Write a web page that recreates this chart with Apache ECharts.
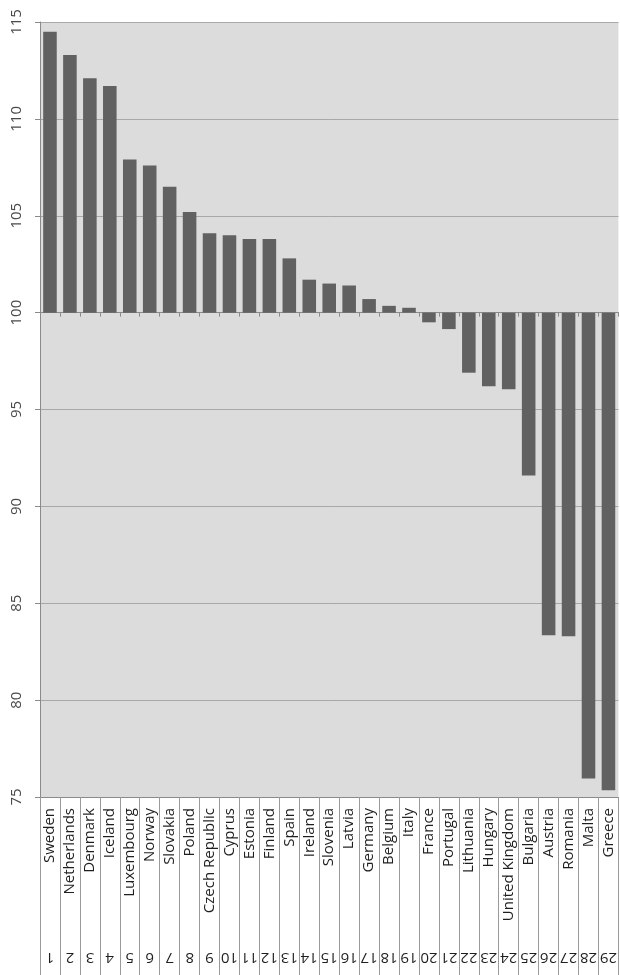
<!DOCTYPE html>
<html>
<head>
<meta charset="utf-8">
<script src="https://cdn.jsdelivr.net/npm/echarts@6/dist/echarts.min.js"></script>
<style>
html,body{margin:0;padding:0;background:#fff;}
#chart{width:620px;height:975px;}
</style>
</head>
<body>
<div id="chart"></div>
<script>
const countries = ["Sweden","Netherlands","Denmark","Iceland","Luxembourg","Norway","Slovakia","Poland","Czech Republic","Cyprus","Estonia","Finland","Spain","Ireland","Slovenia","Latvia","Germany","Belgium","Italy","France","Portugal","Lithuania","Hungary","United Kingdom","Bulgaria","Austria","Romania","Malta","Greece"];
const ranks = ["1","2","3","4","5","6","7","8","9","10","11","12","13","14","15","16","17","18","19","20","21","22","23","24","25","26","27","28","29"];
const values = [114.5,113.3,112.1,111.7,107.9,107.6,106.5,105.2,104.1,104.0,103.8,103.8,102.8,101.7,101.5,101.4,100.7,100.35,100.25,99.5,99.15,96.9,96.2,96.05,91.6,83.35,83.3,75.95,75.35];
const baseline = 100;
const yTicks = {min:75, max:115, step:5};

const chart = echarts.init(document.getElementById('chart'), null, {renderer:'canvas'});
const font = '"Open Sans", "DejaVu Sans", sans-serif';
chart.setOption({
  animation:false,
  backgroundColor:'#ffffff',
  grid:{left:40, right:0, top:22, bottom:178, show:true, backgroundColor:'#dcdcdc', borderWidth:0},
  xAxis:[
    {type:'category', data:countries, position:'bottom',
     axisLine:{onZero:true, lineStyle:{color:'#8a8a8a', width:1}},
     axisTick:{show:true, length:4, interval:0, lineStyle:{color:'#8a8a8a'}},
     axisLabel:{show:false}, splitLine:{show:false}},
    {type:'category', data:countries, position:'bottom',
     axisLine:{onZero:false, lineStyle:{color:'#8a8a8a', width:1}},
     axisTick:{show:true, length:180, interval:0, lineStyle:{color:'#9a9a9a'}},
     axisLabel:{rotate:90, margin:11, fontSize:15, fontFamily:font, color:'#1e1e1e', interval:0},
     splitLine:{show:false}},
    {type:'category', data:ranks, position:'bottom', offset:150,
     axisLine:{show:false, onZero:false}, axisTick:{show:false},
     axisLabel:{rotate:180, margin:3, fontSize:15, fontFamily:font, color:'#1e1e1e', interval:0},
     splitLine:{show:false}}
  ],
  yAxis:{type:'value', min:yTicks.min-baseline, max:yTicks.max-baseline, interval:yTicks.step,
    axisLine:{show:true, lineStyle:{color:'#8a8a8a'}},
    axisTick:{show:true, length:5, lineStyle:{color:'#8a8a8a'}},
    axisLabel:{rotate:90, margin:16, fontSize:15, fontFamily:font, color:'#4a4a4a',
      formatter:v => String(v+baseline)},
    splitLine:{show:true, lineStyle:{color:'#a8a8a8', width:1}}},
  series:[{type:'bar', xAxisIndex:0, data:values.map(v => +(v-baseline).toFixed(3)),
    barCategoryGap:'32%', itemStyle:{color:'#616161'}}]
});
</script>
</body>
</html>
